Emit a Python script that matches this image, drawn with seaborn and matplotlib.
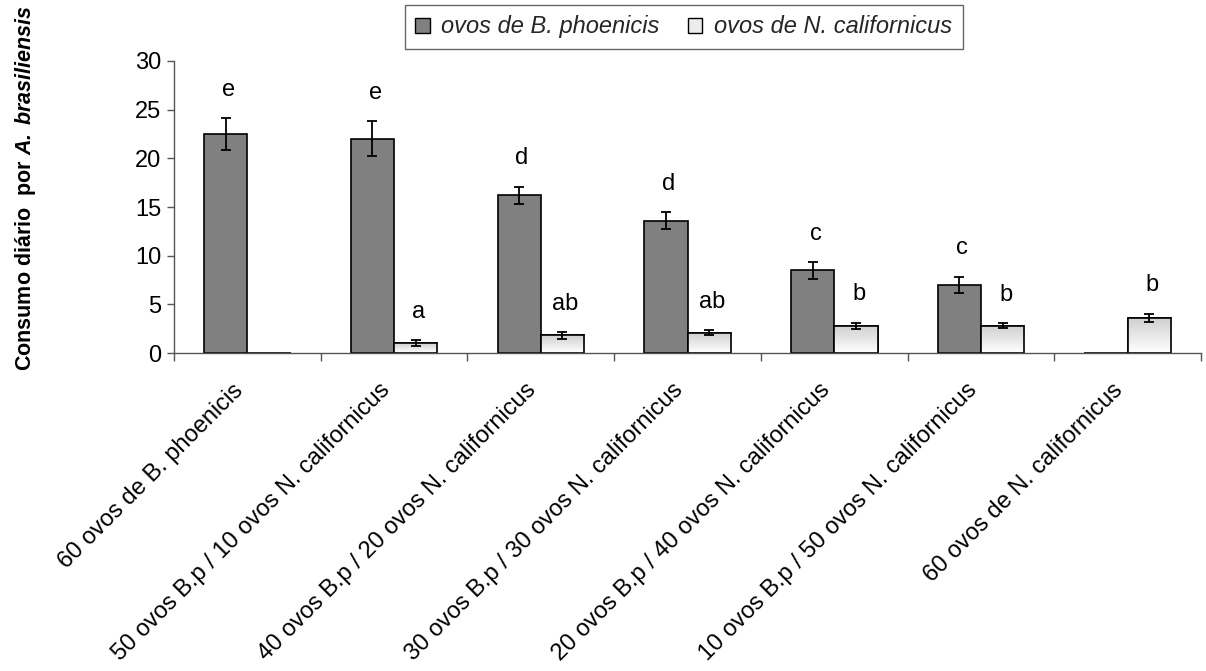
import numpy as np
import pandas as pd
import matplotlib
matplotlib.use("Agg")
import matplotlib.pyplot as plt
import seaborn as sns
from matplotlib.patches import Rectangle, Patch
from matplotlib.colors import LinearSegmentedColormap

categories = [
    "60 ovos de B. phoenicis",
    "50 ovos B.p / 10 ovos N. californicus",
    "40 ovos B.p / 20 ovos N. californicus",
    "30 ovos B.p / 30 ovos N. californicus",
    "20 ovos B.p / 40 ovos N. californicus",
    "10 ovos B.p / 50 ovos N. californicus",
    "60 ovos de N. californicus",
]
series = ["ovos de B. phoenicis", "ovos de N. californicus"]
bp_mean = [22.5, 22.0, 16.2, 13.6, 8.5, 7.0, 0.0]
bp_err = [1.6, 1.8, 0.9, 0.85, 0.85, 0.85, 0.0]
nc_mean = [0.0, 1.0, 1.8, 2.1, 2.8, 2.8, 3.6]
nc_err = [0.0, 0.3, 0.35, 0.25, 0.33, 0.25, 0.45]
bp_letters = ["e", "e", "d", "d", "c", "c", ""]
nc_letters = ["", "a", "ab", "ab", "b", "b", "b"]
y_label_plain = "Consumo diário  por "
y_label_species = r"A.\;brasiliensis"

sns.set_theme(style="white")
plt.rcParams["font.family"] = ["Liberation Sans", "DejaVu Sans"]
plt.rcParams["mathtext.fontset"] = "custom"
plt.rcParams["mathtext.rm"] = "Liberation Sans"
plt.rcParams["mathtext.bf"] = "Liberation Sans:bold"
plt.rcParams["mathtext.it"] = "Liberation Sans:italic"
plt.rcParams["mathtext.bfit"] = "Liberation Sans:bold:italic"

df = pd.DataFrame({
    "cat": categories * 2,
    "series": [series[0]] * len(categories) + [series[1]] * len(categories),
    "val": bp_mean + nc_mean,
})

dark = "#808080"
light = "#ececec"
axcol = "#555555"
fs = 17

fig = plt.figure(figsize=(12.06, 6.71), dpi=100)
ax = fig.add_axes([0.1443, 0.4739, 0.9959 - 0.1443, 0.9091 - 0.4739])

sns.barplot(data=df, x="cat", y="val", hue="series", order=categories,
            hue_order=series, palette=[dark, light], width=0.59, gap=0,
            edgecolor="black", linewidth=1.2, errorbar=None, legend=False,
            ax=ax, saturation=1)

n = len(categories)
patches = list(ax.patches)
bp_patches = patches[:n]
nc_patches = patches[n:2 * n]

cmap = LinearSegmentedColormap.from_list("g", ["#ffffff", "#cfcfcf"])
grad = np.linspace(0, 1, 256).reshape(-1, 1)
for p in nc_patches:
    x0 = p.get_x(); w = p.get_width(); h = p.get_height()
    if h <= 0:
        continue
    im = ax.imshow(grad, cmap=cmap, origin="lower", aspect="auto",
                   extent=[x0, x0 + w, 0, h], zorder=p.get_zorder() + 0.1)
    im.set_clip_path(p)
    ax.add_patch(Rectangle((x0, 0), w, h, fill=False, edgecolor="black",
                           linewidth=1.2, zorder=p.get_zorder() + 0.2))

def centers(ps):
    return [p.get_x() + p.get_width() / 2 for p in ps]

bx = centers(bp_patches)
nx = centers(nc_patches)
for xs, m, e in ((bx, bp_mean, bp_err), (nx, nc_mean, nc_err)):
    xs2 = [x for x, mm in zip(xs, m) if mm > 0]
    m2 = [mm for mm in m if mm > 0]
    e2 = [ee for ee, mm in zip(e, m) if mm > 0]
    ax.errorbar(xs2, m2, yerr=e2, fmt="none", ecolor="black", elinewidth=1.3,
                capsize=3.5, capthick=1.3, zorder=5)

offset = 2.9
for xs, m, e, labs in ((bx, bp_mean, bp_err, bp_letters),
                       (nx, nc_mean, nc_err, nc_letters)):
    for x, mm, ee, lab in zip(xs, m, e, labs):
        if lab:
            ax.text(x + 0.02, mm + ee + offset, lab, ha="center", va="center",
                    fontsize=fs, color="black", zorder=6)

ax.set_xlim(-0.5, n - 0.5)
ax.set_ylim(0, 30)
ax.set_yticks(np.arange(0, 31, 5))
ax.tick_params(axis="y", labelsize=fs, length=5, width=1, color=axcol,
               direction="out", left=True, pad=4, labelcolor="black")

ax.set_xticks(np.arange(-0.5, n, 1))
ax.set_xticklabels([])
ax.set_xticks(np.arange(n), minor=True)
ax.set_xticklabels(categories, minor=True, rotation=45, ha="right",
                   fontsize=fs, color="black")
ax.tick_params(axis="x", which="major", length=6, width=1, color=axcol,
               direction="out", bottom=True)
ax.tick_params(axis="x", which="minor", length=0, pad=19)

for s in ["top", "right"]:
    ax.spines[s].set_visible(False)
for s in ["left", "bottom"]:
    ax.spines[s].set_color(axcol)
    ax.spines[s].set_linewidth(1)

ax.set_xlabel("")
ax.set_ylabel(y_label_plain + r"$\mathbfit{" + y_label_species + "}$",
              fontsize=15.5, fontweight="bold", color="black")
ax.yaxis.set_label_coords(-0.132, 0.565)

handles = [Patch(facecolor=dark, edgecolor="black", linewidth=1),
           Patch(facecolor=light, edgecolor="black", linewidth=1)]
leg = fig.legend(handles, series, loc="center", bbox_to_anchor=(0.567, 0.960),
                 ncol=2, frameon=True, fancybox=False, edgecolor="#404040",
                 prop={"style": "italic", "size": fs}, handlelength=0.6,
                 handleheight=0.6, handletextpad=0.5, columnspacing=1.2,
                 borderpad=0.45, borderaxespad=0)
leg.get_frame().set_linewidth(1)

fig.savefig("out.png", dpi=100, facecolor="white")
